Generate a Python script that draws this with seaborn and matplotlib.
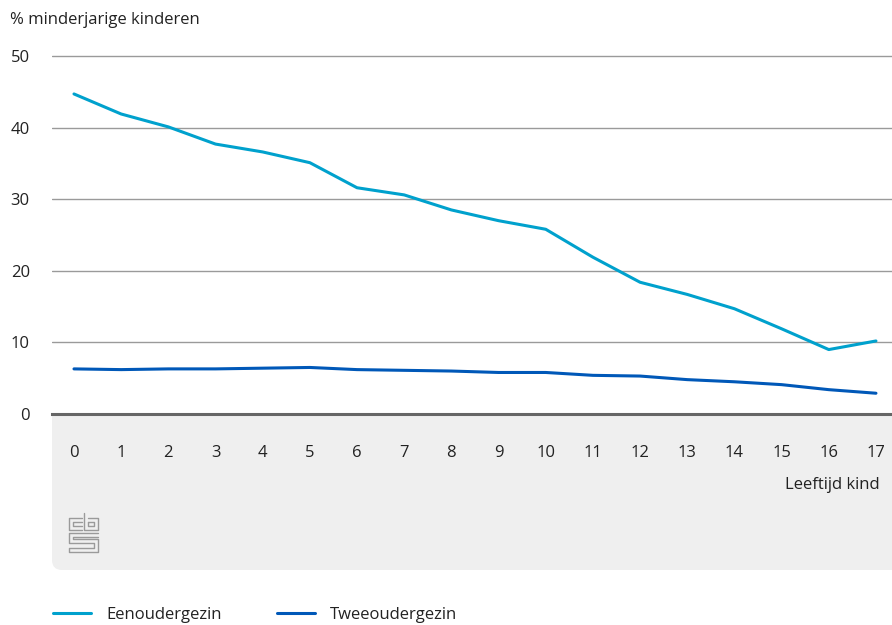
import numpy as np
import pandas as pd
import matplotlib
matplotlib.use("Agg")
import matplotlib.pyplot as plt
from matplotlib.patches import FancyBboxPatch
from matplotlib.lines import Line2D
import seaborn as sns

# data
leeftijd = list(range(18))
eenouder = [44.7, 41.9, 40.1, 37.7, 36.6, 35.1, 31.6, 30.6, 28.5, 27.0,
            25.8, 21.9, 18.4, 16.7, 14.7, 11.9, 9.0, 10.2]
tweeouder = [6.3, 6.2, 6.3, 6.3, 6.4, 6.5, 6.2, 6.1, 6.0, 5.8,
             5.8, 5.4, 5.3, 4.8, 4.5, 4.1, 3.4, 2.9]
reeksen = ["Eenoudergezin", "Tweeoudergezin"]
kleuren = ["#00a1cd", "#0058b8"]
y_ticks = [0, 10, 20, 30, 40, 50]

df = pd.DataFrame({
    "leeftijd": leeftijd * 2,
    "waarde": eenouder + tweeouder,
    "reeks": [reeksen[0]] * 18 + [reeksen[1]] * 18,
})

sns.set_theme(style="white")
plt.rcParams["font.family"] = ["Open Sans", "DejaVu Sans"]
tekst = "#222222"
fs = 12

W, H = 892, 625
fig = plt.figure(figsize=(W / 100, H / 100), dpi=100)
ax = fig.add_axes([52 / W, (H - 414) / H, (W - 52) / W, (414 - 54) / H])
ax.set_facecolor("white")

# grijs vlak onder de x-as
vlak = FancyBboxPatch((0.52, (H - 570) / 100), 9.5, 1.9,
                      boxstyle="round,pad=0,rounding_size=0.1",
                      transform=fig.dpi_scale_trans, facecolor="#efefef",
                      edgecolor="none", zorder=-5)
fig.patches.append(vlak)

for y in y_ticks[1:]:
    ax.axhline(y, color="#9a9a9a", lw=1, zorder=1)

sns.lineplot(data=df, x="leeftijd", y="waarde", hue="reeks",
             palette=dict(zip(reeksen, kleuren)), lw=2.2, ax=ax, zorder=3)

ax.set_xlim(-0.466, 17.34)
ax.set_ylim(0, 50.28)
ax.set_xticks(leeftijd)
ax.set_yticks(y_ticks)
ax.set_xlabel("")
ax.set_ylabel("")
for s in ["top", "right", "left"]:
    ax.spines[s].set_visible(False)
ax.spines["bottom"].set_color("#666666")
ax.spines["bottom"].set_linewidth(2.2)
ax.spines["bottom"].set_zorder(4)
ax.tick_params(axis="x", length=10, width=1.1, color="#cccccc",
               pad=12, labelsize=fs, labelcolor=tekst, direction="out")
ax.tick_params(axis="y", length=0, pad=16, labelsize=fs, labelcolor=tekst)
ax.get_legend().remove()

fig.text(10 / W, 1 - 20 / H, "% minderjarige kinderen", fontsize=fs,
         color=tekst, va="center", ha="left")
fig.text(880 / W, 1 - 485 / H, "Leeftijd kind", fontsize=fs,
         color=tekst, va="center", ha="right")

# cbs logo (benadering)
logo = [
    [(82, 518), (69, 518), (69, 530), (82, 530)],
    [(82, 522), (73, 522), (73, 526), (82, 526)],
    [(84, 513), (84, 530), (98, 530), (98, 518), (88, 518)],
    [(88, 522), (94, 522), (94, 526), (88, 526), (88, 522)],
    [(98, 533), (69, 533), (69, 543), (94, 543), (94, 548), (69, 548), (69, 552), (98, 552), (98, 539), (73, 539), (73, 537), (98, 537)],
]
for pts in logo:
    xs = [p[0] / 100 for p in pts]
    ys = [(H - p[1]) / 100 for p in pts]
    fig.add_artist(Line2D(xs, ys, transform=fig.dpi_scale_trans,
                          color="#9a9a9a", lw=1.0))

handles = [Line2D([0], [0], color=c, lw=2.2) for c in kleuren]
fig.legend(handles, reeksen, loc="center left",
           bbox_to_anchor=(38 / W, 1 - 615 / H), ncol=2, frameon=False,
           fontsize=fs, handlelength=2.3, handletextpad=0.9,
           columnspacing=3.3, labelcolor=tekst)

fig.savefig("out.png", dpi=100)
